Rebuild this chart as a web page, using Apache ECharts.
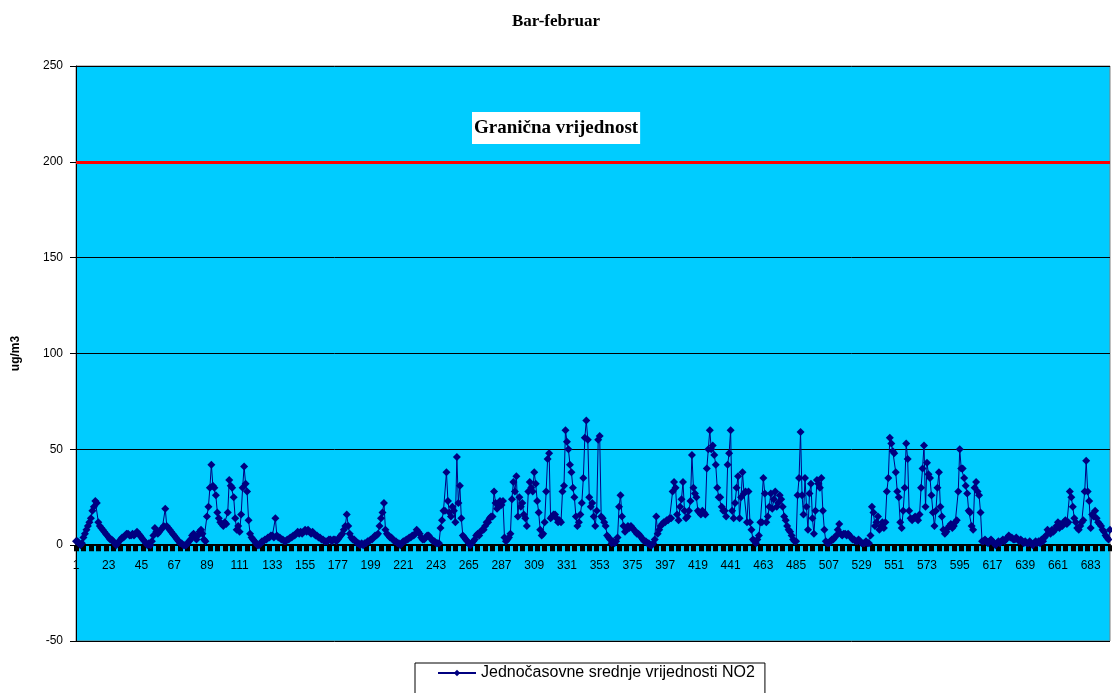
<!DOCTYPE html>
<html>
<head>
<meta charset="utf-8">
<title>Bar-februar</title>
<script src="https://cdn.jsdelivr.net/npm/echarts@6/dist/echarts.min.js"></script>
<style>
  html, body { margin: 0; padding: 0; background: #fff; }
  #main { width: 1112px; height: 693px; }
</style>
</head>
<body>
<div id="main"></div>
<script>
// hourly NO2 means, Bar, February (29 days x 24 h)
var no2 = [
  2, 2, 1, 0, 1, 4, 6, 8, 10, 12, 14, 18, 20, 23, 22, 12,
  10, 9, 8, 7, 6, 5, 4, 3, 3, 2, 1, 0, 1, 2,
  3, 4, 4, 5, 6, 6, 5, 5, 6, 5, 6, 7, 6, 5,
  4, 3, 2, 1, 0, 1, 0, 2, 5, 9, 7, 6, 7, 8, 9, 10,
  19, 10, 9, 8, 7, 6, 5, 4, 3, 2, 1, 1, 0, 0, 0, 1,
  2, 3, 5, 6, 4, 3, 5, 7, 8, 6, 3, 2,
  15, 20, 30, 42, 31, 30, 26, 17, 14, 12, 11, 10, 12, 11,
  17, 34, 31, 30, 25, 14, 8, 10, 7, 16, 30, 41, 32, 28, 13, 6, 4, 3,
  2, 1, 0, 0, 1, 2, 2, 3, 3, 4, 4, 5, 5, 4, 14, 5, 4, 4,
  3, 3, 2, 2, 3, 3, 4, 4, 5,
  5, 6, 7, 6, 7, 6, 7, 8, 7, 8, 7, 6, 7, 6, 5, 5, 4, 4,
  3, 3, 2, 2, 2, 3, 3, 2, 3, 3, 2, 3, 4, 5, 6, 8,
  10, 16, 10, 6, 4, 3, 3, 2, 1, 1, 0, 1, 0, 1, 1, 2, 2, 3,
  3, 4, 5, 5, 6, 10, 14, 17, 22, 8, 6,
  5, 4, 4, 3, 2, 2, 1, 1, 0, 1, 2, 2, 3, 3, 4, 4, 5, 5, 6, 8, 7,
  6, 4, 3, 3, 4, 5, 5, 4, 3, 2, 2, 1, 1, 1, 9,
  13, 18, 18, 38, 23, 17, 15, 20, 18, 12, 46, 22, 31, 14, 5,
  4, 3, 2, 1, 0, 1, 2, 3, 5, 6, 5, 7, 8, 8, 10, 12, 12, 14, 15, 15,
  28, 22, 19, 20, 23, 21, 23, 4, 2, 3, 4, 6,
  24, 33, 28, 36, 15, 25, 20, 22, 16, 14,
  10, 28, 33, 30, 28, 38, 32, 23, 17, 8, 5, 6, 12, 28,
  45, 48, 14, 15, 16, 16, 14, 12, 13, 12,
  28, 31, 60, 54, 50, 42, 38, 30, 25, 15,
  10, 12, 16, 22, 35, 56, 65, 55, 25, 20,
  22, 15, 10, 18, 55, 57, 15, 14, 12, 10, 5, 4,
  3, 1, 2, 1, 2, 4, 20, 26, 15, 10, 7,
  8, 10, 9, 10, 9, 8, 7, 6, 6, 5, 4, 3, 2, 2, 1, 1, 0, 0, 1, 3,
  15, 6, 8, 10, 11, 12, 12, 13, 13, 14, 14,
  28, 33, 30, 16, 13, 20, 24, 33, 18, 14, 15, 18, 23, 47, 30, 27, 25,
  18, 17, 16, 18, 17, 16,
  40, 50, 60, 50, 52, 47, 42, 30, 25, 25, 20, 18, 18, 15,
  42, 48, 60, 18, 14, 22, 30, 36, 14, 25, 38, 27, 28, 12,
  28, 12, 8, 3, 2, 1, 3, 5, 12, 12,
  35, 27, 12, 15, 20, 27, 19, 24, 28, 20, 22, 26, 24, 20, 15, 13, 10, 8,
  7, 5, 3, 2, 2, 26, 35, 59, 26, 16, 35, 20, 8, 27,
  32, 14, 6, 18, 34, 32, 30, 35, 18,
  8, 2, 1, 1, 2, 3, 3, 4, 5,
  8, 11, 6, 5, 6, 6, 5, 6, 5, 4, 3, 3, 2, 2,
  3, 2, 1, 1, 1, 2, 1, 1, 5,
  20, 17, 10, 12, 15, 8, 10, 12, 9, 12,
  28, 35, 56, 53, 49, 48, 38, 28, 25, 12, 9, 18,
  30, 53, 45, 18, 14, 13, 14, 15, 14, 13, 16, 30,
  40, 52, 20, 43, 37, 35, 26, 17, 10, 18, 30, 38, 20, 15,
  8, 6, 7, 9, 10, 11, 9, 10, 12,
  13, 28, 50, 40, 40, 35, 31, 27, 18, 17, 10, 8, 30,
  33, 28, 26, 17, 2, 2,
  3, 2, 1, 2, 3, 2, 1, 0, 1, 2, 1, 2, 3, 2, 3, 4, 5, 4, 4, 3,
  3, 4, 3, 2, 3, 2, 1, 2, 1, 1, 2, 1, 0, 1, 2, 1, 2, 1, 3, 2, 4,
  5, 8, 7, 6, 8, 7,
  8, 10, 12, 9, 11, 10, 12, 13, 11, 12,
  28, 25, 20, 14, 12, 9, 8, 10, 12, 13,
  28, 44, 28, 23, 9, 16,
  15, 18, 14, 12, 11, 10, 8, 7, 5, 4, 3, 8
];
var hours = no2.map(function (v, i) { return String(i + 1); });
var yTicks = [-50, 0, 50, 100, 150, 200, 250];
var limitValue = 200;
var limitLabel = 'Granična vrijednost';
var seriesName = 'Jednočasovne srednje vrijednosti NO2';

// plot is 575px tall for 300 units; the category axis sits on y = 0
var zeroOffset = -575 * (0 - yTicks[0]) / (yTicks[yTicks.length - 1] - yTicks[0]);

var myChart = echarts.init(document.getElementById('main'));
myChart.setOption({
  backgroundColor: '#ffffff',
  animation: false,
  title: [
    {
      text: 'Bar-februar',
      left: 'center',
      top: 8,
      textStyle: { fontFamily: 'Liberation Serif', fontWeight: 'bold', fontSize: 17, color: '#000' }
    },
    {
      text: limitLabel,
      left: 472,
      top: 112,
      backgroundColor: '#ffffff',
      padding: [7, 2, 6, 2],
      textStyle: { fontFamily: 'Liberation Serif', fontWeight: 'bold', fontSize: 19, color: '#000' }
    }
  ],
  legend: {
    data: [seriesName],
    left: 415,
    top: 663,
    backgroundColor: '#ffffff',
    borderColor: '#000',
    borderWidth: 1,
    borderRadius: 0,
    padding: [2, 10, 20, 22],
    itemWidth: 38,
    itemHeight: 8,
    itemGap: 2,
    textStyle: { fontFamily: 'Liberation Sans', fontSize: 16, color: '#000' }
  },
  grid: {
    left: 76,
    right: 2,
    top: 66,
    bottom: 52,
    show: true,
    backgroundColor: '#00ccff',
    borderColor: '#808080',
    borderWidth: 1
  },
  xAxis: {
    type: 'category',
    data: hours,
    boundaryGap: false,
    offset: zeroOffset,
    axisLine: { onZero: false, lineStyle: { color: '#000', width: 2 } },
    axisTick: { show: true, interval: 4, length: 6, lineStyle: { color: '#000', width: 5 } },
    axisLabel: {
      interval: 21,
      margin: 15,
      fontFamily: 'Liberation Sans',
      fontSize: 12,
      color: '#000'
    },
    splitLine: { show: false }
  },
  yAxis: {
    type: 'value',
    min: yTicks[0],
    max: yTicks[yTicks.length - 1],
    interval: 50,
    name: 'ug/m3',
    nameLocation: 'middle',
    nameRotate: 90,
    nameGap: 54,
    nameTextStyle: { fontFamily: 'Liberation Sans', fontWeight: 'bold', fontSize: 12, color: '#000' },
    axisLine: { show: true, lineStyle: { color: '#000', width: 1 } },
    axisTick: { show: true, length: 6, lineStyle: { color: '#000' } },
    axisLabel: { margin: 13, fontFamily: 'Liberation Sans', fontSize: 12, color: '#000' },
    splitLine: { show: true, lineStyle: { color: '#000', width: 1 } }
  },
  series: [
    {
      name: seriesName,
      type: 'line',
      data: no2,
      showAllSymbol: true,
      symbol: 'diamond',
      symbolSize: 8,
      itemStyle: { color: '#000080' },
      lineStyle: { color: '#000080', width: 1 },
      markLine: {
        silent: true,
        symbol: 'none',
        label: { show: false },
        lineStyle: { color: '#ff0000', width: 3, type: 'solid' },
        data: [{ yAxis: limitValue }]
      }
    }
  ]
});
</script>
</body>
</html>
